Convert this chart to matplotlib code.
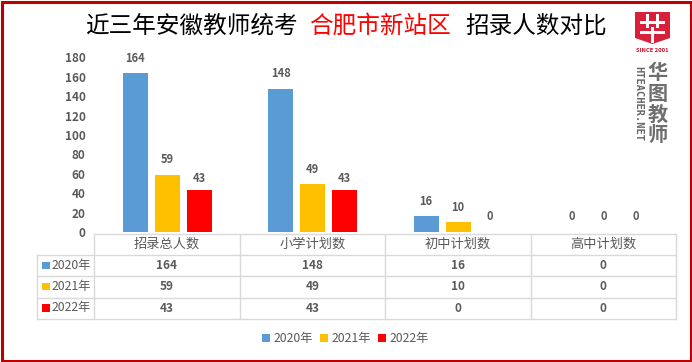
import matplotlib
matplotlib.use("Agg")
import matplotlib.pyplot as plt
from matplotlib.patches import Rectangle, Polygon

plt.rcParams['font.family'] = ['Noto Sans CJK SC', 'DejaVu Sans']

categories = ["招录总人数", "小学计划数", "初中计划数", "高中计划数"]
series_names = ["2020年", "2021年", "2022年"]
values_2020 = [164, 148, 16, 0]
values_2021 = [59, 49, 10, 0]
values_2022 = [43, 43, 0, 0]
y_ticks = [0, 20, 40, 60, 80, 100, 120, 140, 160, 180]
colors = ["#5B9BD5", "#FFC000", "#FF0000"]
text_col = "#595959"
grid_col = "#D9D9D9"
series = [values_2020, values_2021, values_2022]

W, H = 692, 362
fig = plt.figure(figsize=(W / 100, H / 100), dpi=100)

# overlay in pixel coordinates (y downward)
ov = fig.add_axes([0, 0, 1, 1])
ov.set_xlim(0, W)
ov.set_ylim(H, 0)
ov.axis("off")

# border
ov.add_patch(Rectangle((1.5, 1.5), W - 3, H - 3, fill=False, ec="#C00000", lw=2.2))

# title
ov.text(85, 26, "近三年安徽教师统考", fontsize=17, color="black", va="center", ha="left")
ov.text(309, 26, "合肥市新站区", fontsize=17, color="#FF0000", va="center", ha="left")
ov.text(465, 26, "招录人数对比", fontsize=17, color="black", va="center", ha="left")

# chart axes
x0, x1 = 94, 676
y0, ytop = 232, 57.5
ax = fig.add_axes([x0 / W, 1 - y0 / H, (x1 - x0) / W, (y0 - ytop) / H])
ax.patch.set_alpha(0)
ax.set_xlim(-0.5, 3.5)
ax.set_ylim(0, 180)
for s in ax.spines.values():
    s.set_visible(False)
ax.set_xticks([])
ax.set_yticks(y_ticks)
ax.tick_params(axis="y", length=0, pad=6, labelsize=8.5, labelcolor=text_col)
for lab in ax.get_yticklabels():
    lab.set_fontweight("bold")
bw, off = 0.172, 0.22
for i, (vals, c) in enumerate(zip(series, colors)):
    xs = [k + (i - 1) * off + 0.003 for k in range(len(categories))]
    ax.bar(xs, vals, width=bw, color=c)
    for x, v in zip(xs, vals):
        dy = 8.7 if (i == 2 and v > 0) else 10.8
        ax.annotate(str(v), (x, v), xytext=(0, dy), textcoords="offset points",
                    ha="center", va="center", fontsize=8, fontweight="bold", color=text_col)

# data table
col_edges = [94, 239.5, 385, 530.5, 676]
row_edges = [233.5, 255, 276, 297.5, 318.5]
left = 37
lw = 1.0
ov.plot([x0, x1], [row_edges[0]] * 2, color=grid_col, lw=lw)
for y in row_edges[1:]:
    ov.plot([left, x1], [y, y], color=grid_col, lw=lw)
for x in col_edges:
    ov.plot([x, x], [row_edges[0], row_edges[-1]], color=grid_col, lw=lw)
ov.plot([left, left], [row_edges[1], row_edges[-1]], color=grid_col, lw=lw)

for j, cat in enumerate(categories):
    xc = (col_edges[j] + col_edges[j + 1]) / 2
    ov.text(xc, (row_edges[0] + row_edges[1]) / 2, cat, ha="center", va="center",
            fontsize=9.5, color=text_col)
for i, (name, vals, c) in enumerate(zip(series_names, series, colors)):
    yc = (row_edges[i + 1] + row_edges[i + 2]) / 2
    ov.add_patch(Rectangle((42, yc - 4), 7.5, 7.5, color=c, lw=0))
    ov.text(52, yc, name, ha="left", va="center", fontsize=8.8, color=text_col)
    for j, v in enumerate(vals):
        xc = (col_edges[j] + col_edges[j + 1]) / 2
        ov.text(xc, yc, str(v), ha="center", va="center", fontsize=8.5,
                fontweight="bold", color=text_col)

# legend
leg_x = [262, 320, 378]
for x, name, c in zip(leg_x, series_names, colors):
    ov.add_patch(Rectangle((x, 334), 8, 8, color=c, lw=0))
    ov.text(x + 12, 338.5, name, ha="left", va="center", fontsize=8.8, color=text_col)

# logo
ov.add_patch(Polygon([(635, 12), (670, 12), (670, 38), (652.5, 44), (635, 38)],
                     closed=True, color="#D8203A", lw=0))
for (rx, ry, rw, rh) in [(646, 14, 3, 14), (656, 14, 3, 14), (640, 21, 25, 3),
                         (640, 31, 25, 3), (651, 27, 3, 16)]:
    ov.add_patch(Rectangle((rx, ry), rw, rh, color="white", lw=0))
ov.text(652.5, 50, "SINCE 2001", fontsize=4.2, color="#C8102E", ha="center", va="center",
        fontweight="bold")
ov.text(638.5, 103, "HTEACHER.NET", fontsize=7.5, rotation=270, color="#666666",
        family="DejaVu Sans Mono", fontweight="bold", ha="center", va="center")
for y, ch in zip([72.5, 93.5, 114.5, 134.5], "华图教师"):
    ov.text(658, y, ch, fontsize=14.5, fontweight="bold", color="#6E6E6E", ha="center", va="center")

fig.savefig("out.png", dpi=100)
